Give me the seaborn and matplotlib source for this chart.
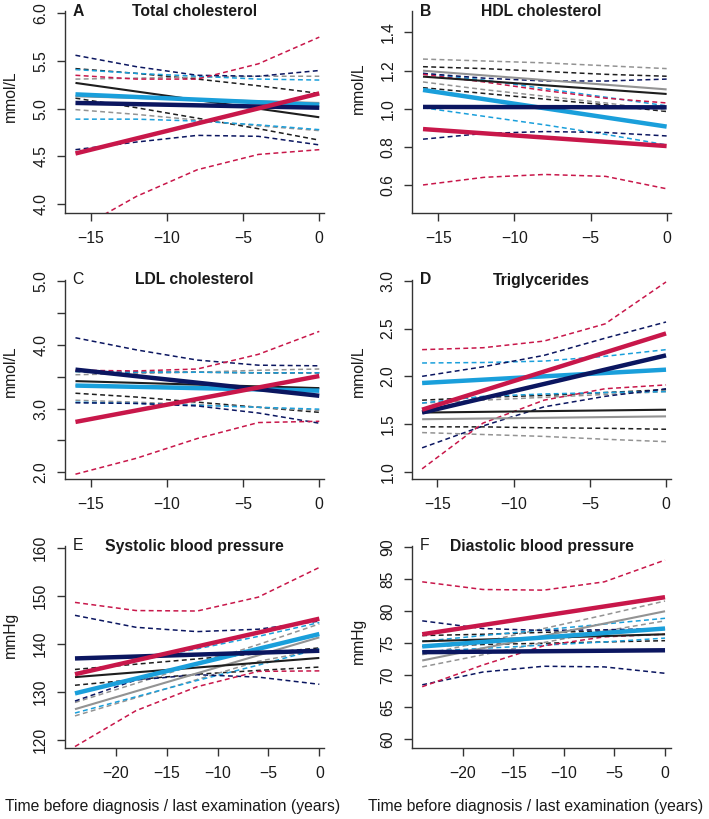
import numpy as np
import pandas as pd
import seaborn as sns
import matplotlib.pyplot as plt
from matplotlib.ticker import FixedLocator, FixedFormatter

# time points (years before diagnosis / last examination)
x_lipid = [-16, -12, -8, -4, 0]
x_bp = [-24, -18, -12, -6, 0]

# series order: black, grey, light blue, navy, crimson
colors = ["#1e1e1e", "#939393", "#1a9fdb", "#0b1660", "#c8174a"]
widths = [1.5, 1.5, 3.2, 3.2, 3.2]

# fitted lines (start, end) and confidence bands for each panel
tc_fit = [[5.27, 4.91], [5.13, 5.06], [5.15, 5.04], [5.06, 5.01], [4.53, 5.16]]
tc_hi = [[5.42, 5.37, 5.31, 5.24, 5.16], [5.31, 5.32, 5.33, 5.34, 5.34],
         [5.41, 5.37, 5.34, 5.31, 5.30], [5.56, 5.44, 5.35, 5.34, 5.40],
         [5.35, 5.31, 5.31, 5.47, 5.75]]
tc_lo = [[5.11, 5.01, 4.90, 4.79, 4.67], [4.99, 4.94, 4.88, 4.82, 4.77],
         [4.89, 4.89, 4.87, 4.83, 4.78], [4.57, 4.65, 4.72, 4.71, 4.62],
         [3.72, 4.08, 4.36, 4.52, 4.57]]

hdl_fit = [[1.168, 1.077], [1.199, 1.101], [1.098, 0.906], [1.009, 1.007], [0.893, 0.804]]
hdl_hi = [[1.22, 1.21, 1.195, 1.18, 1.17], [1.26, 1.25, 1.24, 1.225, 1.21],
          [1.185, 1.15, 1.105, 1.06, 1.015], [1.185, 1.16, 1.145, 1.145, 1.155],
          [1.18, 1.14, 1.095, 1.055, 1.03]]
hdl_lo = [[1.11, 1.08, 1.05, 1.02, 0.985], [1.14, 1.10, 1.065, 1.03, 0.99],
          [1.005, 0.96, 0.915, 0.865, 0.81], [0.84, 0.87, 0.88, 0.875, 0.857],
          [0.60, 0.64, 0.655, 0.645, 0.58]]

ldl_fit = [[3.43, 3.32], [3.36, 3.32], [3.36, 3.28], [3.61, 3.20], [2.79, 3.51]]
ldl_hi = [[3.58, 3.57, 3.57, 3.56, 3.56], [3.53, 3.55, 3.57, 3.60, 3.62],
          [3.58, 3.57, 3.57, 3.56, 3.56], [4.11, 3.92, 3.76, 3.68, 3.67],
          [3.60, 3.59, 3.62, 3.85, 4.21]]
ldl_lo = [[3.24, 3.18, 3.10, 3.02, 2.94], [3.13, 3.10, 3.06, 3.02, 2.97],
          [3.10, 3.08, 3.05, 3.02, 2.99], [3.09, 3.08, 3.04, 2.93, 2.77],
          [1.97, 2.22, 2.53, 2.78, 2.80]]

tg_fit = [[1.62, 1.65], [1.55, 1.58], [1.93, 2.07], [1.62, 2.22], [1.65, 2.45]]
tg_hi = [[1.75, 1.78, 1.80, 1.83, 1.86], [1.72, 1.75, 1.78, 1.81, 1.84],
         [2.14, 2.145, 2.16, 2.21, 2.28], [2.00, 2.10, 2.22, 2.40, 2.57],
         [2.28, 2.30, 2.37, 2.55, 2.99]]
tg_lo = [[1.47, 1.47, 1.46, 1.455, 1.445], [1.41, 1.39, 1.37, 1.34, 1.315],
         [1.72, 1.79, 1.815, 1.83, 1.84], [1.25, 1.48, 1.68, 1.79, 1.87],
         [1.03, 1.51, 1.75, 1.87, 1.91]]

sbp_fit = [[133.1, 137.1], [126.4, 141.4], [129.7, 142.1], [137.0, 138.6], [133.7, 145.3]]
sbp_hi = [[134.7, 135.8, 136.9, 138.0, 139.2], [127.8, 131.8, 135.8, 139.9, 144.2],
          [134.0, 136.5, 139.0, 141.6, 144.5], [146.0, 143.5, 142.6, 143.1, 144.8],
          [148.7, 147.0, 146.9, 149.8, 156.0]]
sbp_lo = [[131.4, 132.6, 133.7, 134.5, 135.2], [125.0, 128.8, 132.6, 136.4, 138.8],
          [125.6, 129.0, 132.4, 135.6, 139.0], [128.1, 132.5, 133.6, 133.1, 131.6],
          [118.6, 126.1, 131.1, 134.3, 134.4]]

dbp_fit = [[75.3, 76.4], [72.3, 80.0], [74.5, 77.3], [73.6, 73.9], [76.4, 82.2]]
dbp_hi = [[76.2, 76.4, 76.7, 76.9, 77.2], [73.2, 75.2, 77.3, 79.4, 81.6],
          [75.3, 76.2, 77.1, 78.0, 78.9], [78.5, 77.3, 77.0, 77.1, 77.3],
          [84.6, 83.4, 83.3, 84.6, 88.0]]
dbp_lo = [[74.5, 74.8, 75.0, 75.2, 75.4], [71.3, 73.2, 75.1, 76.9, 78.5],
          [73.7, 74.2, 74.7, 75.2, 75.8], [68.5, 70.5, 71.4, 71.3, 70.3],
          [68.2, 71.6, 74.6, 76.0, 76.4]]

sns.set_style("ticks")
plt.rcParams["font.family"] = ["Liberation Sans", "DejaVu Sans"]
plt.rcParams["font.size"] = 11.3

W, H = 709, 819
fig = plt.figure(figsize=(W / 100, H / 100), dpi=100)

cols = [(64.8, 259.2), (412.2, 258.7)]
rows = [(11, 213), (280, 479.3), (546, 747.5)]

panels = [
    dict(letter="A", bold=True, title="Total cholesterol", x=x_lipid, fit=tc_fit, hi=tc_hi, lo=tc_lo,
         xlim=(-16.7, 0.31), ylim=(3.906, 6.024), yt=[4.0, 4.5, 5.0, 5.5, 6.0],
         ytl=["4.0", "4.5", "5.0", "5.5", "6.0"], ylab="mmol/L", lab_y=0.58),
    dict(letter="B", bold=True, title="HDL cholesterol", x=x_lipid, fit=hdl_fit, hi=hdl_hi, lo=hdl_lo,
         xlim=(-16.71, 0.28), ylim=(0.453, 1.512), yt=[0.6, 0.8, 1.0, 1.2, 1.4],
         ytl=["0.6", "0.8", "1.0", "1.2", "1.4"], ylab="mmol/L", lab_y=0.62),
    dict(letter="C", bold=False, title="LDL cholesterol", x=x_lipid, fit=ldl_fit, hi=ldl_hi, lo=ldl_lo,
         xlim=(-16.7, 0.31), ylim=(1.890, 5.016), yt=[2.0, 2.5, 3.0, 3.5, 4.0, 4.5, 5.0],
         ytl=["2.0", "", "3.0", "", "4.0", "", "5.0"], ylab="mmol/L", lab_y=0.54),
    dict(letter="D", bold=True, title="Triglycerides", x=x_lipid, fit=tg_fit, hi=tg_hi, lo=tg_lo,
         xlim=(-16.65, 0.32), ylim=(0.920, 3.0105), yt=[1.0, 1.5, 2.0, 2.5, 3.0],
         ytl=["1.0", "1.5", "2.0", "2.5", "3.0"], ylab="mmol/L", lab_y=0.54),
    dict(letter="E", bold=False, title="Systolic blood pressure", x=x_bp, fit=sbp_fit, hi=sbp_hi, lo=sbp_lo,
         xlim=(-25.0, 0.46), ylim=(118.4, 160.48), yt=[120, 130, 140, 150, 160],
         ytl=["120", "130", "140", "150", "160"], ylab="mmHg", lab_y=0.56),
    dict(letter="F", bold=False, title="Diastolic blood pressure", x=x_bp, fit=dbp_fit, hi=dbp_hi, lo=dbp_lo,
         xlim=(-24.99, 0.58), ylim=(58.7, 90.2), yt=[60, 65, 70, 75, 80, 85, 90],
         ytl=["60", "65", "70", "75", "80", "85", "90"], ylab="mmHg", lab_y=0.53),
]

solid_order = [1, 0, 2, 3, 4]
dash = (0, (3.2, 2.2))

for i, p in enumerate(panels):
    left, width = cols[i % 2]
    top, bottom = rows[i // 2]
    ax = fig.add_axes([left / W, 1 - bottom / H, width / W, (bottom - top) / H])

    for k in range(5):
        for band in (p["hi"], p["lo"]):
            sns.lineplot(x=p["x"], y=band[k], ax=ax, color=colors[k], linewidth=1.1,
                         linestyle=dash, estimator=None, sort=False, legend=False)
    for k in solid_order:
        sns.lineplot(x=[p["x"][0], p["x"][-1]], y=p["fit"][k], ax=ax, color=colors[k],
                     linewidth=widths[k], estimator=None, sort=False, legend=False,
                     solid_capstyle="butt")

    ax.set_xlim(*p["xlim"])
    ax.set_ylim(*p["ylim"])
    xt = [-15, -10, -5, 0] if p["x"] is x_lipid else [-20, -15, -10, -5, 0]
    ax.xaxis.set_major_locator(FixedLocator(xt))
    ax.yaxis.set_major_locator(FixedLocator(p["yt"]))
    ax.yaxis.set_major_formatter(FixedFormatter(p["ytl"]))
    ax.tick_params(axis="both", length=6, width=1.0, color="#333333", labelsize=11.3,
                   labelcolor="#1a1a1a")
    ax.tick_params(axis="x", pad=7)
    ax.tick_params(axis="y", pad=6, labelrotation=90)
    for lab in ax.get_yticklabels():
        lab.set_va("center")
    sns.despine(ax=ax)
    for s in ("left", "bottom"):
        ax.spines[s].set_color("#333333")
        ax.spines[s].set_linewidth(1.0)

    ax.set_xlabel("")
    ax.set_ylabel(p["ylab"], fontsize=11.3, color="#1a1a1a")
    ax.yaxis.set_label_coords(-0.18, p["lab_y"])

    ax.text(0.5, 1.0, p["title"], transform=ax.transAxes, ha="center", va="center",
            fontsize=11.3, fontweight="bold", color="#1a1a1a")
    ax.annotate(p["letter"], xy=(0, 1), xycoords="axes fraction", xytext=(5.5, 0),
                textcoords="offset points", ha="left", va="center", fontsize=11.3,
                fontweight="bold" if p["bold"] else "normal", color="#1a1a1a")

xlab = "Time before diagnosis / last examination (years)"
fig.text(172.5 / W, 1 - 806 / H, xlab, ha="center", va="center", fontsize=11.3, color="#1a1a1a")
fig.text(536 / W, 1 - 806 / H, xlab, ha="center", va="center", fontsize=11.3, color="#1a1a1a")

fig.savefig("out.png", dpi=100)
